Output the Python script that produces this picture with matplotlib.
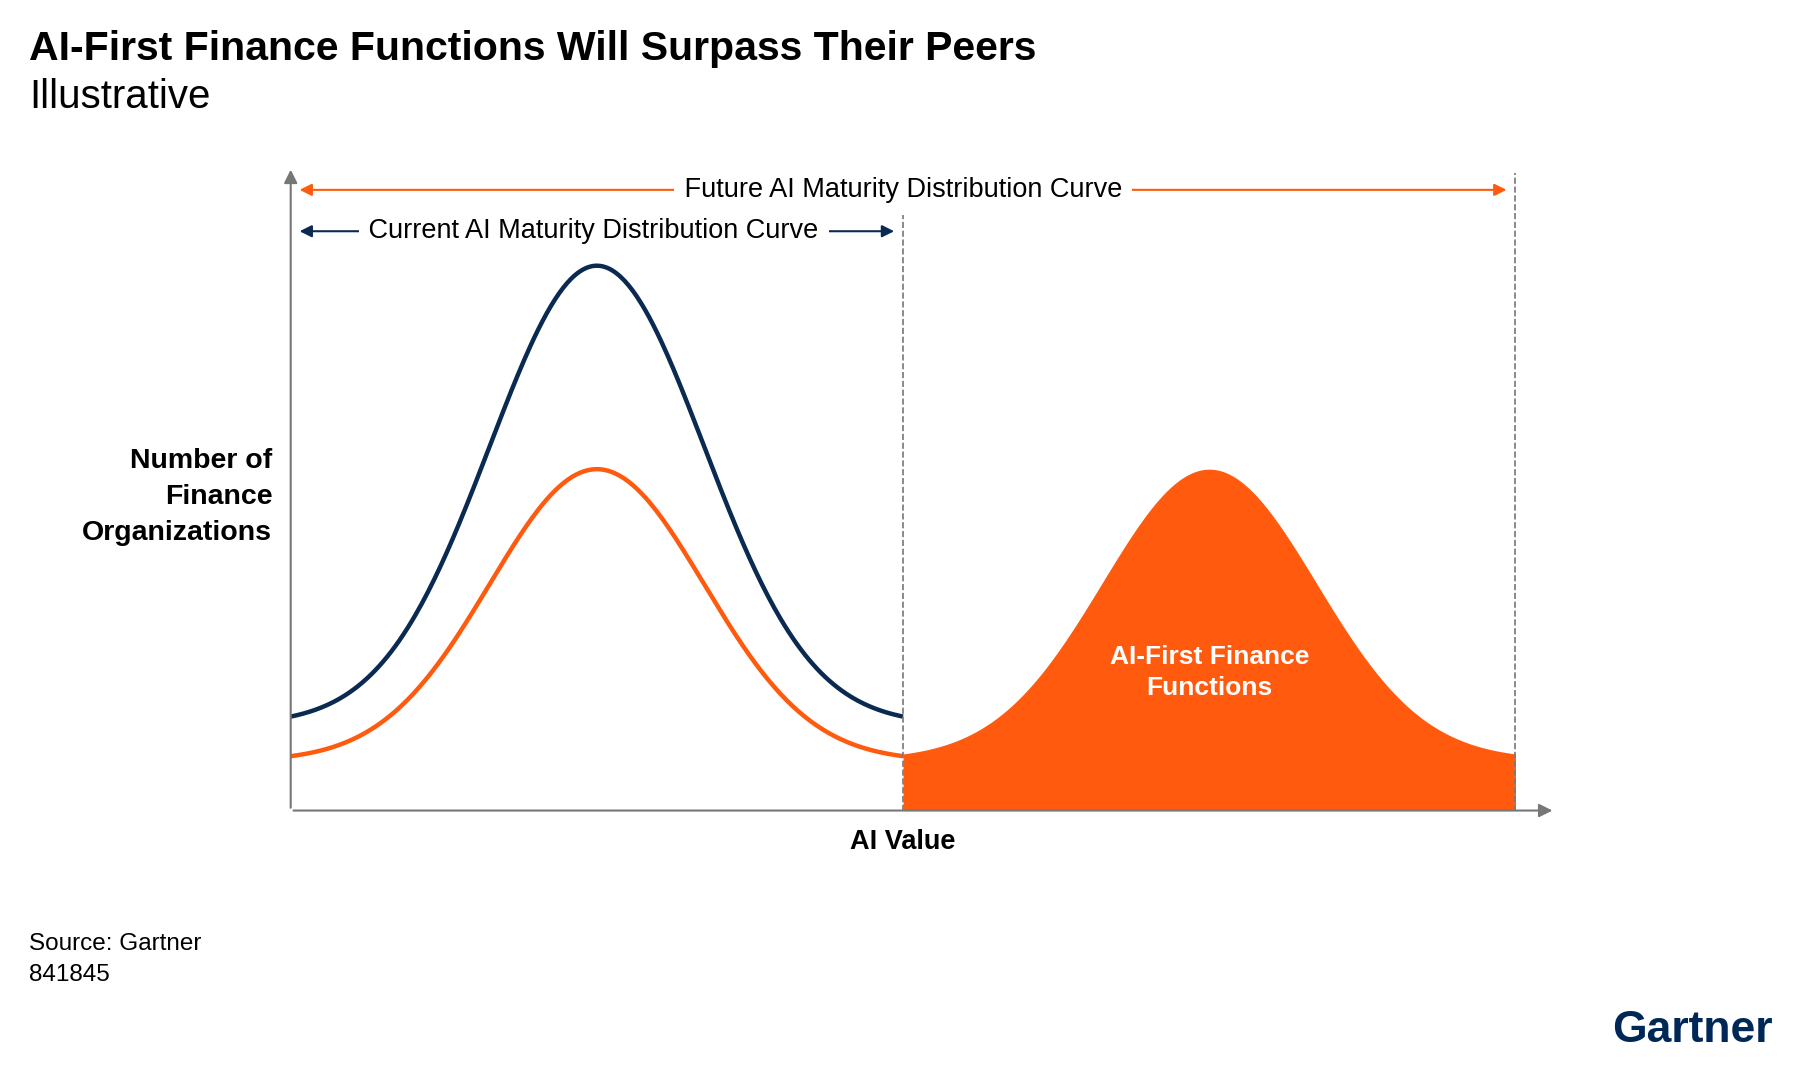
import numpy as np
import matplotlib
matplotlib.use("Agg")
import matplotlib.pyplot as plt

plt.rcParams['font.family'] = ['Liberation Sans', 'DejaVu Sans']

NAVY = '#0a2a52'
ORANGE = '#ff5a0e'
GRAY = '#777777'

# Illustrative bell curves: (center, width, baseline, peak)
curve_names = ['Current total', 'Current peers', 'AI-First']
curve_center = [1.0, 1.0, 3.0]
curve_width = [0.35, 0.35, 0.35]
curve_base = [0.75, 0.43, 0.45]
curve_peak = [4.74, 2.97, 2.97]
curve_range = [(0.0, 2.0), (0.0, 2.0), (2.0, 4.0)]

fig = plt.figure(figsize=(18, 10.8), dpi=100)
ax = fig.add_axes([0.1615, 0.2495, 0.7025, 0.596])
ax.set_xlim(0, 4.13)
ax.set_ylim(0, 5.6)
ax.axis('off')

def bell(i):
    x = np.linspace(*curve_range[i], 300)
    y = curve_base[i] + (curve_peak[i] - curve_base[i]) * np.exp(-(x - curve_center[i])**2 / (2 * curve_width[i]**2))
    return x, y

x, y = bell(0)
ax.plot(x, y, color=NAVY, lw=3.2, solid_capstyle='butt')
x, y = bell(1)
ax.plot(x, y, color=ORANGE, lw=3.2, solid_capstyle='butt')
x, y = bell(2)
ax.fill_between(x, 0, y, color=ORANGE, lw=0)
ax.text(3.0, 1.2, 'AI-First Finance\nFunctions', ha='center', va='center', color='white',
        fontsize=19, fontweight='bold', linespacing=1.35)

ax.annotate('', xy=(4.13, 0), xytext=(0, 0), arrowprops=dict(arrowstyle='-|>', color=GRAY, lw=1.5, mutation_scale=20), annotation_clip=False)
ax.annotate('', xy=(0, 5.6), xytext=(0, 0), arrowprops=dict(arrowstyle='-|>', color=GRAY, lw=1.5, mutation_scale=20), annotation_clip=False)

ax.plot([2, 2], [0, 5.18], ls='--', color=GRAY, lw=1.2)
ax.plot([4, 4], [0, 5.55], ls='--', color=GRAY, lw=1.2)

ax.annotate('', xy=(0.02, 5.4), xytext=(3.98, 5.4), arrowprops=dict(arrowstyle='<|-|>', color=ORANGE, lw=1.5, mutation_scale=18))
ax.text(2.0, 5.4, ' Future AI Maturity Distribution Curve ', ha='center', va='center', fontsize=19.5,
        bbox=dict(facecolor='white', edgecolor='none', pad=2))
ax.annotate('', xy=(0.02, 5.04), xytext=(1.98, 5.04), arrowprops=dict(arrowstyle='<|-|>', color=NAVY, lw=1.5, mutation_scale=18))
ax.text(0.99, 5.04, ' Current AI Maturity Distribution Curve ', ha='center', va='center', fontsize=19.5,
        bbox=dict(facecolor='white', edgecolor='none', pad=2))

ax.text(2.0, -0.27, 'AI Value', ha='center', va='center', fontsize=19.5, fontweight='bold')
ax.text(-0.06, 2.73, 'Number of\nFinance\nOrganizations', ha='right', va='center', fontsize=20.5,
        fontweight='bold', linespacing=1.5)

fig.text(0.016, 0.955, 'AI-First Finance Functions Will Surpass Their Peers', fontsize=29.5, fontweight='bold', va='center')
fig.text(0.016, 0.91, 'Illustrative', fontsize=29, va='center')
fig.text(0.016, 0.126, 'Source: Gartner', fontsize=17.5, va='center')
fig.text(0.016, 0.097, '841845', fontsize=17.5, va='center')
fig.text(0.985, 0.027, 'Gartner', fontsize=32, fontweight='bold', color='#002856', ha='right', va='bottom')

fig.savefig('out.png', dpi=100, facecolor='white')
